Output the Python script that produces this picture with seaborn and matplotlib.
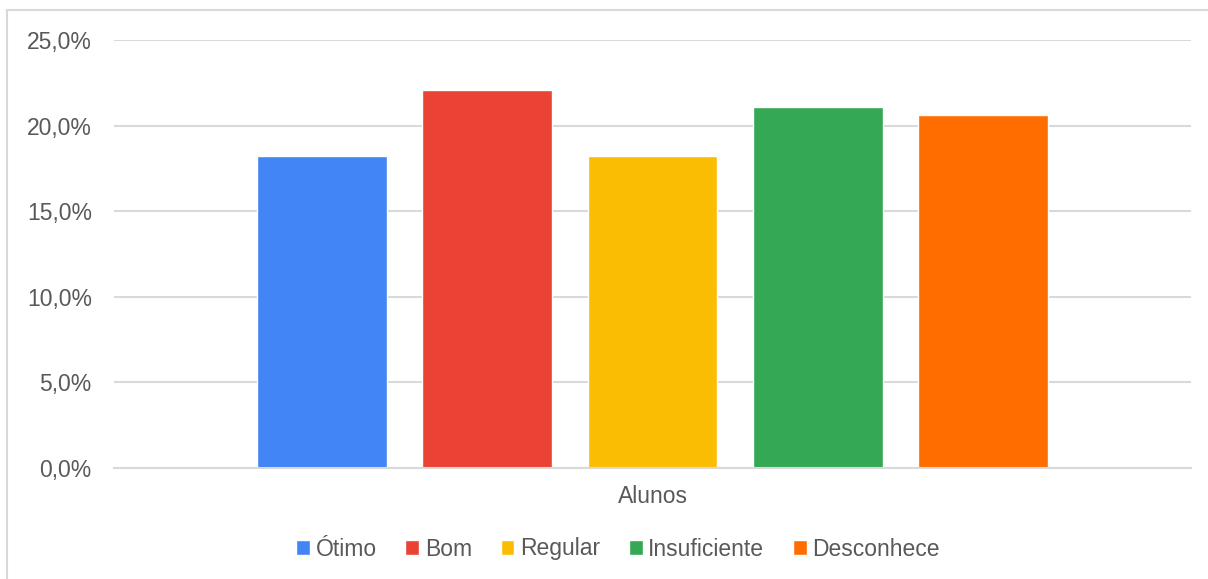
import matplotlib
matplotlib.use("Agg")
import matplotlib.pyplot as plt
from matplotlib.lines import Line2D
from matplotlib.ticker import FuncFormatter
import seaborn as sns
import pandas as pd

categories = ["Ótimo", "Bom", "Regular", "Insuficiente", "Desconhece"]
values = [18.2, 22.1, 18.2, 21.1, 20.6]
group_label = "Alunos"
colors = ["#4285F4", "#EA4335", "#FBBC04", "#34A853", "#FF6D01"]
yticks = [0, 5, 10, 15, 20, 25]

df = pd.DataFrame({"grupo": [group_label] * len(categories),
                   "categoria": categories, "valor": values})

sns.set_theme(style="white")
plt.rcParams["font.family"] = ["Liberation Sans", "DejaVu Sans"]
text_color = "#595959"
grid_color = "#d9d9d9"
fs = 16.5

fig = plt.figure(figsize=(12.08, 5.79), dpi=100)
ax = fig.add_axes([114 / 1208, 1 - 468 / 579, (1191 - 114) / 1208, (468 - 40) / 579])

sns.barplot(data=df, x="grupo", y="valor", hue="categoria", hue_order=categories,
            palette=colors, ax=ax, gap=0.2145, saturation=1, legend=True)

ax.set_xlim(-0.5208, 0.5208)
ax.set_ylim(0, 25)
ax.set_yticks(yticks)
ax.yaxis.set_major_formatter(FuncFormatter(lambda v, p: f"{v:.1f}%".replace(".", ",")))
ax.grid(axis="y", color=grid_color, linewidth=1.5)
ax.set_axisbelow(True)
for s in ["top", "right", "left"]:
    ax.spines[s].set_visible(False)
ax.spines["bottom"].set_color(grid_color)
ax.spines["bottom"].set_linewidth(1.5)
ax.tick_params(axis="y", length=0, pad=16, labelsize=fs, labelcolor=text_color)
ax.tick_params(axis="x", length=0, pad=12, labelsize=fs, labelcolor=text_color)
ax.set_xlabel("")
ax.set_ylabel("")

handles, labels = ax.get_legend_handles_labels()
ax.get_legend().remove()
fig.legend(handles, labels, loc="center", bbox_to_anchor=(618 / 1208, 1 - 549 / 579),
           ncol=5, frameon=False, fontsize=fs, labelcolor=text_color,
           handlelength=0.6, handleheight=0.6, handletextpad=0.25,
           columnspacing=1.25, borderaxespad=0)

# outer chart frame (partially visible)
fig.add_artist(Line2D([7 / 1208, 7 / 1208], [0, 1 - 10 / 579], transform=fig.transFigure,
                      color=grid_color, linewidth=1.5))
fig.add_artist(Line2D([7 / 1208, 1], [1 - 10 / 579, 1 - 10 / 579], transform=fig.transFigure,
                      color=grid_color, linewidth=1.5))

fig.savefig("out.png", dpi=100, facecolor="white")
